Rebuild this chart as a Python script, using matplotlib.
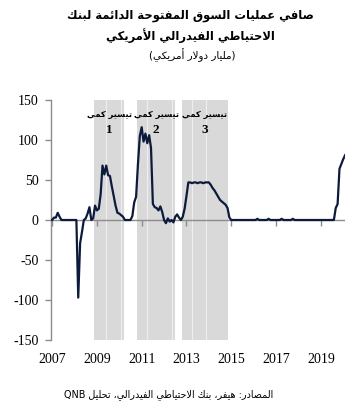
import matplotlib
matplotlib.use("Agg")
import matplotlib.pyplot as plt
import numpy as np

plt.rcParams["axes.unicode_minus"] = False

# monthly net standing open market operations, bn USD (Jan 2007 - Feb 2020)
y2007 = [0, 3, 3, 9, 4, 0, 0, 0, 0, 0, 0, 0]
y2008 = [0, 0, -97, -29, -15, 0, 2, 8, 16, 0, 2, 18]
y2009 = [12, 14, 32, 68, 57, 68, 56, 55, 42, 30, 18, 9]
y2010 = [8, 6, 4, 0, 0, 0, 0, 5, 22, 29, 70, 105]
y2011 = [116, 98, 108, 96, 106, 90, 20, 16, 15, 12, 17, 10]
y2012 = [0, -4, 2, -2, 0, -3, 4, 7, 3, 0, 4, 14]
y2013 = [30, 47, 47, 46, 47, 47, 46, 47, 47, 46, 47, 47]
y2014 = [47, 44, 40, 37, 33, 29, 25, 23, 21, 19, 15, 3]
y2015 = [0, 0, 0, 0, 0, 0, 0, 0, 0, 0, 0, 0]
y2016 = [0, 0, 1.5, 0, 0, 0, 0, 0, 1.5, 0, 0, 0]
y2017 = [0, 0, 0, 1.5, 0, 0, 0, 0, 0, 1.5, 0, 0]
y2018 = [0, 0, 0, 0, 0, 0, 0, 0, 0, 0, 0, 0]
y2019 = [0, 0, 0, 0, 0, 0, 0, 0, 15, 20, 64, 70]
y2020 = [76, 81]

values = np.array(y2007 + y2008 + y2009 + y2010 + y2011 + y2012 + y2013
                  + y2014 + y2015 + y2016 + y2017 + y2018 + y2019 + y2020)
years = 2007 + np.arange(len(values)) / 12.0

qe_start = [2008.875, 2010.81, 2012.79]
qe_end = [2010.23, 2012.49, 2014.84]
qe_numbers = ["1", "2", "3"]
qe_dividers = [2009.42, 2010.07, 2011.23, 2012.37, 2013.26, 2013.86]

title_1 = "صافي عمليات السوق المفتوحة الدائمة لبنك"
title_2 = "الاحتياطي الفيدرالي الأمريكي"
subtitle = "(مليار دولار أمريكي)"
qe_label = "تيسير كمي"
source = "المصادر: هيفر، بنك الاحتياطي الفيدرالي، تحليل QNB"

# --- minimal arabic shaping (matplotlib has no complex text layout) ---
FORMS = {
    "ء": ("\ufe80",), "آ": ("\ufe81", "\ufe82"), "أ": ("\ufe83", "\ufe84"),
    "ؤ": ("\ufe85", "\ufe86"), "إ": ("\ufe87", "\ufe88"),
    "ئ": ("\ufe89", "\ufe8a", "\ufe8b", "\ufe8c"), "ا": ("\ufe8d", "\ufe8e"),
    "ب": ("\ufe8f", "\ufe90", "\ufe91", "\ufe92"), "ة": ("\ufe93", "\ufe94"),
    "ت": ("\ufe95", "\ufe96", "\ufe97", "\ufe98"), "ث": ("\ufe99", "\ufe9a", "\ufe9b", "\ufe9c"),
    "ج": ("\ufe9d", "\ufe9e", "\ufe9f", "\ufea0"), "ح": ("\ufea1", "\ufea2", "\ufea3", "\ufea4"),
    "خ": ("\ufea5", "\ufea6", "\ufea7", "\ufea8"), "د": ("\ufea9", "\ufeaa"),
    "ذ": ("\ufeab", "\ufeac"), "ر": ("\ufead", "\ufeae"), "ز": ("\ufeaf", "\ufeb0"),
    "س": ("\ufeb1", "\ufeb2", "\ufeb3", "\ufeb4"), "ش": ("\ufeb5", "\ufeb6", "\ufeb7", "\ufeb8"),
    "ص": ("\ufeb9", "\ufeba", "\ufebb", "\ufebc"), "ض": ("\ufebd", "\ufebe", "\ufebf", "\ufec0"),
    "ط": ("\ufec1", "\ufec2", "\ufec3", "\ufec4"), "ظ": ("\ufec5", "\ufec6", "\ufec7", "\ufec8"),
    "ع": ("\ufec9", "\ufeca", "\ufecb", "\ufecc"), "غ": ("\ufecd", "\ufece", "\ufecf", "\ufed0"),
    "ف": ("\ufed1", "\ufed2", "\ufed3", "\ufed4"), "ق": ("\ufed5", "\ufed6", "\ufed7", "\ufed8"),
    "ك": ("\ufed9", "\ufeda", "\ufedb", "\ufedc"), "ل": ("\ufedd", "\ufede", "\ufedf", "\ufee0"),
    "م": ("\ufee1", "\ufee2", "\ufee3", "\ufee4"), "ن": ("\ufee5", "\ufee6", "\ufee7", "\ufee8"),
    "ه": ("\ufee9", "\ufeea", "\ufeeb", "\ufeec"), "و": ("\ufeed", "\ufeee"),
    "ى": ("\ufeef", "\ufef0"), "ي": ("\ufef1", "\ufef2", "\ufef3", "\ufef4"),
}
LAM_ALEF = {"آ": ("\ufef5", "\ufef6"), "أ": ("\ufef7", "\ufef8"),
            "إ": ("\ufef9", "\ufefa"), "ا": ("\ufefb", "\ufefc")}
MIRROR = {"(": ")", ")": "("}


def joins_next(ch):
    return ch in FORMS and len(FORMS[ch]) == 4


def shape(text):
    out = []
    i = 0
    n = len(text)
    while i < n:
        ch = text[i]
        prev = text[i - 1] if i > 0 else ""
        link_prev = joins_next(prev) and ch in FORMS
        if ch == "ل" and i + 1 < n and text[i + 1] in LAM_ALEF:
            out.append(LAM_ALEF[text[i + 1]][1 if link_prev else 0])
            i += 2
            continue
        if ch not in FORMS:
            out.append(MIRROR.get(ch, ch))
            i += 1
            continue
        nxt = text[i + 1] if i + 1 < n else ""
        forms = FORMS[ch]
        link_next = len(forms) == 4 and nxt in FORMS
        if link_prev and link_next:
            out.append(forms[3])
        elif link_prev:
            out.append(forms[1])
        elif link_next:
            out.append(forms[2])
        else:
            out.append(forms[0])
        i += 1
    visual = "".join(reversed(out))
    # put latin / digit runs back in reading order
    res, run = [], []
    for c in visual:
        if c.isascii() and c.isalnum():
            run.append(c)
        else:
            res.extend(reversed(run))
            run = []
            res.append(c)
    res.extend(reversed(run))
    return "".join(res)


W, H = 353, 413
fig = plt.figure(figsize=(W / 100, H / 100), dpi=100)
ax = fig.add_axes([51 / W, 1 - 340 / H, (345 - 51) / W, 240 / H])

band_color = "#d9d9d9"
line_color = "#0c1a3c"
axis_color = "#8c8c8c"

for s, e in zip(qe_start, qe_end):
    ax.axvspan(s, e, color=band_color, lw=0, zorder=0)
for d in qe_dividers:
    ax.axvline(d, color="#eeeeee", lw=0.8, zorder=0.5)

ax.axhline(0, color=axis_color, lw=1.0, zorder=1)
ax.plot(years, values, color=line_color, lw=1.6, zorder=3, solid_joinstyle="round")

for s, e, num in zip(qe_start, qe_end, qe_numbers):
    mid = (s + e) / 2
    ax.text(mid, 132, shape(qe_label), ha="center", va="center",
            fontsize=6, fontweight="bold", family="DejaVu Sans", zorder=4)
    ax.text(mid, 113, num, ha="center", va="center", fontsize=9.5,
            fontweight="bold", family="Liberation Serif", zorder=4)

ax.set_xlim(2006.95, 2020.08)
ax.set_ylim(-150, 150)
ax.set_yticks(np.arange(-150, 151, 50))
ax.set_xticks(np.arange(2007, 2020, 2))

for side in ["top", "right", "bottom"]:
    ax.spines[side].set_visible(False)
ax.spines["left"].set_color(axis_color)
ax.spines["left"].set_linewidth(1.0)

ax.tick_params(axis="y", length=4, width=1.0, color=axis_color, pad=5,
               labelsize=10, labelfontfamily="Liberation Serif")
# x ticks sit on the zero line, labels below the plot area
ax.xaxis.set_ticks_position("bottom")
ax.spines["bottom"].set_position(("data", 0))
ax.tick_params(axis="x", length=4, width=1.0, color=axis_color, pad=92,
               labelsize=10, labelfontfamily="Liberation Serif")

fig.text(190 / W, 1 - 16 / H, shape(title_1), ha="center", va="center",
         fontsize=8.3, fontweight="bold", family="DejaVu Sans")
fig.text(190 / W, 1 - 36 / H, shape(title_2), ha="center", va="center",
         fontsize=8.3, fontweight="bold", family="DejaVu Sans")
fig.text(192 / W, 1 - 55 / H, shape(subtitle), ha="center", va="center",
         fontsize=7.5, family="DejaVu Sans")
fig.text(169 / W, 1 - 395 / H, shape(source), ha="center", va="center",
         fontsize=6.9, family="DejaVu Sans")

fig.savefig("out.png", dpi=100)
